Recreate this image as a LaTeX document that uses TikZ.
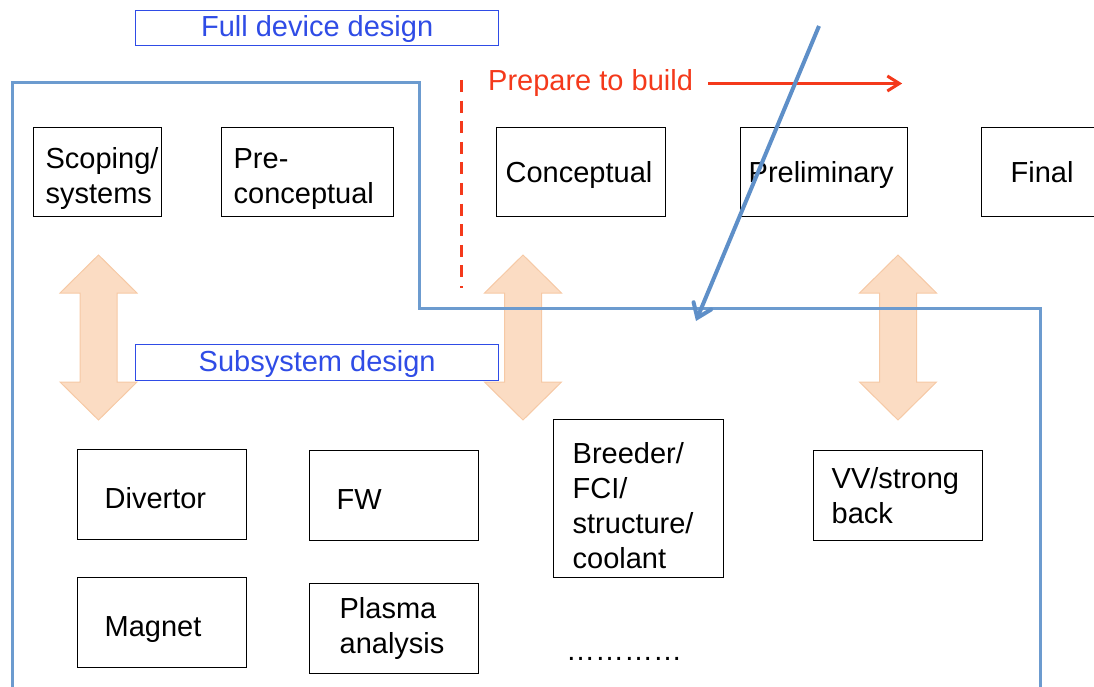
\documentclass[tikz,border=0pt]{standalone}
\usepackage{fontspec}
\setmainfont{Liberation Sans}
\usetikzlibrary{arrows.meta}
\definecolor{outlineblue}{HTML}{6C9BCF}
\definecolor{arrowblue}{HTML}{5E8FC8}
\definecolor{labelblue}{HTML}{2F4CE6}
\definecolor{prepred}{HTML}{F4391B}
\definecolor{peachfill}{HTML}{FBDCC3}
\definecolor{peachedge}{HTML}{F6C9A5}
\hfuzz=60pt
\hbadness=10000
\newcommand{\peacharrow}[1]{%
  \draw[peach] (#1,255) -- (#1+38.5,293) -- (#1+18.5,293) -- (#1+18.5,382) -- (#1+38.5,382)
    -- (#1,420) -- (#1-38.5,382) -- (#1-18.5,382) -- (#1-18.5,293) -- (#1-38.5,293) -- cycle;}
\newcommand{\lift}[1]{\rule{0pt}{#1}}
\begin{document}
\begin{tikzpicture}[x=1pt,y=-1pt,
  big/.style={font=\fontsize{29}{35}\selectfont},
  stagebox/.style={big, draw=black, line width=1.3pt, fill=white, anchor=north west, align=left, inner ysep=0pt},
  titlebox/.style={big, draw=labelblue, text=labelblue, line width=1.3pt, fill=white, anchor=north west, inner sep=0pt},
  outline/.style={draw=outlineblue, line width=3pt, line join=miter},
  peach/.style={fill=peachfill, draw=peachedge, line width=1pt, line join=miter},
  redline/.style={draw=prepred, line width=3pt}
]
\useasboundingbox (0,0) rectangle (1094,687);
\clip (0,0) rectangle (1094,687);

% orange double arrows
\peacharrow{98.5}
\peacharrow{523}
\peacharrow{898}

% blue outline
\draw[outline] (12,700) -- (12,83) -- (419,83) -- (419,308) -- (1040,308) -- (1040,700);

% titles
\node[titlebox, minimum width=363pt, minimum height=35pt] (full) at (135,10) {\lift{23pt}Full device design};
\node[titlebox, minimum width=363pt, minimum height=36pt] (subsys) at (135,344) {\lift{23pt}Subsystem design};

% top row
\node[stagebox, minimum width=128pt, minimum height=89pt, inner xsep=12pt, text width=104pt] (scoping) at (33,127) {\lift{34pt}Scoping/\\systems};
\node[stagebox, minimum width=172pt, minimum height=89pt, inner xsep=12pt, text width=148pt] (pre) at (221,127) {\lift{34pt}Pre-\\conceptual};
\node[stagebox, minimum width=169pt, minimum height=89pt, inner xsep=9pt, text width=151pt] (concept) at (496,127) {\lift{27pt}Conceptual};
\node[stagebox, minimum width=167pt, minimum height=89pt, inner xsep=8pt, text width=151pt] (prelim) at (740,127) {\lift{27pt}Preliminary};
\node[stagebox, minimum width=169pt, minimum height=89pt, inner xsep=29pt, text width=111pt] (final) at (981,127) {Final};

% subsystem boxes
\node[stagebox, minimum width=169pt, minimum height=90pt, inner xsep=27pt, text width=115pt] (divertor) at (77,449) {\lift{27pt}Divertor};
\node[stagebox, minimum width=169pt, minimum height=90pt, inner xsep=27pt, text width=115pt] (fw) at (309,450) {\lift{27pt}FW};
\node[stagebox, minimum width=169pt, minimum height=90pt, inner xsep=27pt, text width=115pt] (magnet) at (77,577) {\lift{33pt}Magnet};
\node[stagebox, minimum width=169pt, minimum height=90pt, inner xsep=30pt, text width=109pt] (plasma) at (309,583) {Plasma\\analysis};
\node[stagebox, minimum width=170pt, minimum height=158pt, inner xsep=19pt, text width=132pt] (breeder) at (553,419) {\lift{34pt}Breeder/\\FCI/\\structure/\\coolant};
\node[stagebox, minimum width=169pt, minimum height=90pt, inner xsep=18pt, text width=133pt] (vv) at (813,450) {VV/strong\\back};
\node[big, anchor=base west, inner sep=0pt] (more) at (566,660) {…………};

% prepare to build
\node[big, text=prepred, anchor=base west, inner sep=0pt] (prep) at (488,91) {Prepare to build};
\coordinate (buildend) at ([xshift=209pt]prep.east);
\draw[redline, -{Straight Barb[length=12pt,width=15pt]}] ([xshift=15pt]prep.east) -- (buildend);
\coordinate (gatetop) at (461,80);
\coordinate (gatebot) at (461,287.5);
\draw[redline, dash pattern=on 12pt off 8.6pt] (gatetop) -- (gatebot);

% diagonal arrow
\coordinate (diagstart) at (819,26);
\coordinate (diagend) at (696,321);
\draw[draw=arrowblue, line width=4pt, -{Straight Barb[length=13pt,width=19pt,line cap=round]}] (diagstart) -- (diagend);
\end{tikzpicture}
\end{document}
